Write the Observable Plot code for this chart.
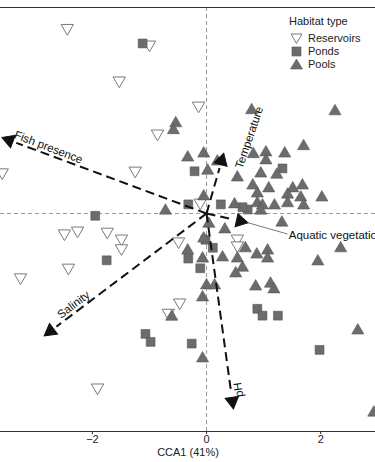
<!DOCTYPE html>
<html><head><meta charset="utf-8">
<script src="https://cdn.jsdelivr.net/npm/d3@7"></script>
<script src="https://cdn.jsdelivr.net/npm/@observablehq/plot@0.6"></script>
<style>
body{margin:0;background:#fff;font-family:"Liberation Sans",Arial,sans-serif;}
#wrap{position:relative;width:375px;height:462px;overflow:hidden;}
#legend{position:absolute;left:0;top:0;font-size:11px;color:#222;}
#legend .t{position:absolute;left:289px;top:15px;white-space:nowrap;}
#legend .r{position:absolute;left:290px;height:14px;display:flex;align-items:center;white-space:nowrap;}
#legend svg{width:13px;height:13px;margin-right:5px;}
</style></head><body>
<div id="wrap"><div id="chart"></div><div id="legend"></div></div>
<script>
// Axis domains and ticks
const xDomain = [-3.61, 2.96];
const yDomain = [-3.82, 3.61];
const xTicks = [-2, 0, 2];
const axisLabel = "CCA1 (41%)";

// Site scores, [CCA1, CCA2]
const reservoirs = [
  [-2.44, 3.25], [-1.00, 2.96], [-1.53, 2.33], [-0.86, 1.40], [-0.14, 1.89],
  [-3.58, 0.72], [-1.25, 0.75], [-2.49, -0.35], [-2.26, -0.30], [-1.74, -0.32],
  [-1.49, -0.44], [-1.49, -0.61], [-2.42, -0.95], [-3.26, -1.12], [-0.49, -0.49],
  [-0.47, -1.56], [-0.67, -1.74], [0.54, -0.44], [0.54, -0.56], [-0.11, 0.19],
  [-1.91, -3.05]
];
const ponds = [
  [-1.12, 2.98], [-1.95, -0.04], [-1.75, -0.82], [-0.21, 0.74], [-0.32, 0.16],
  [0.25, 0.16], [1.33, 0.79], [0.72, 0.07], [0.63, 0.11], [-0.02, -0.46],
  [0.11, -0.60], [-0.32, -0.79], [-0.11, -0.96], [0.89, -1.67], [0.98, -1.79],
  [1.25, -1.79], [-0.26, -2.28], [1.98, -2.39], [-1.07, -2.11], [-0.98, -2.25]
];
const pools = [
  [-0.54, 1.58], [-0.58, 1.46], [-0.33, 0.98], [0.79, 1.81], [2.25, 1.79],
  [1.70, 1.18], [1.37, 1.05], [1.04, 1.07], [1.04, 0.93], [0.82, 1.04],
  [-0.05, 1.05], [0.19, 0.91], [0.02, 0.75], [0.54, 0.63], [0.81, 0.49],
  [0.89, 0.35], [-0.05, 0.30], [0.49, 0.16], [-0.72, 0.05], [0.95, 0.70],
  [1.23, 0.68], [1.68, 0.49], [1.51, 0.44], [1.42, 0.33], [1.65, 0.28],
  [2.02, 0.28], [1.09, 0.44], [0.89, 0.18], [0.98, 0.14], [1.19, 0.14],
  [1.42, 0.18], [1.70, 0.14], [0.95, 0.05], [1.32, -0.16], [0.32, -0.28],
  [0.04, -0.18], [-0.05, -0.44], [0.68, -0.61], [0.88, -0.72], [1.07, -0.65],
  [1.07, -0.79], [0.28, -0.77], [0.54, -0.79], [0.63, -0.95], [0.51, -1.05],
  [-0.07, -0.79], [-0.33, -0.65], [2.35, -0.61], [1.95, -0.84], [0.86, -1.28],
  [1.12, -1.23], [1.18, -1.33], [0.00, -1.26], [0.14, -1.26], [-0.07, -1.47],
  [-0.07, -2.54], [2.65, -2.05], [2.93, -3.49], [-0.61, -1.81]
];

// Environmental vectors
const vecNames = ["Fish presence", "Temperature", "Aquatic vegetation", "Salinity", "pH"];
const vecX = [-3.58, 0.30, 0.72, -2.84, 0.47];
const vecY = [1.33, 1.05, -0.16, -2.14, -3.42];
// label anchor positions and rotation
const labX = [-2.77, 0.75, 1.44, -2.33, 0.56];
const labY = [1.16, 1.33, -0.39, -1.60, -3.09];
const labRot = [21, -71, 0, -37, -98];

const W = 375, H = 462, mT = 7, mB = 31;
const k = W / (xDomain[1] - xDomain[0]); // px per unit (equal aspect)

const vectors = vecNames.map((n, i) => {
  const dx = vecX[i], dy = vecY[i];
  const len = Math.hypot(dx, dy);
  const back = 7.5 / k / len; // centroid of head behind tip
  const ang = Math.atan2(-dy, dx) * 180 / Math.PI;
  return {name: n, x: dx, y: dy, hx: dx * (1 - back), hy: dy * (1 - back),
          lx: dx * (1 - 2 * back), ly: dy * (1 - 2 * back), rot: ang + 90,
          tx: labX[i], ty: labY[i], trot: labRot[i]};
});
const aq = vectors[2];
const rotatedLabels = vectors.filter(v => v !== aq);

const ptFill = "#6c6c6c", ptStroke = "#585858";

const plot = Plot.plot({
  width: W, height: H,
  marginTop: mT, marginBottom: mB, marginLeft: 0, marginRight: 0,
  style: {fontFamily: "'Liberation Sans', Arial, sans-serif", fontSize: "11px", color: "#222", background: "white", overflow: "visible"},
  x: {domain: xDomain, ticks: xTicks, tickSize: 3, tickPadding: 1, tickFormat: d3.format("d"), label: axisLabel, labelArrow: false, labelAnchor: "center", labelOffset: 24},
  y: {domain: yDomain, axis: null},
  marks: [
    Plot.ruleX([0], {stroke: "#9a9a9a", strokeDasharray: "4,3", strokeWidth: 1}),
    Plot.ruleY([0], {stroke: "#9a9a9a", strokeDasharray: "4,3", strokeWidth: 1}),
    Plot.ruleY([yDomain[0], yDomain[1]], {stroke: "#333", strokeWidth: 1}),
    Plot.dot(reservoirs, {x: d => d[0], y: d => d[1], symbol: "triangle", rotate: 180, r: 4.6, fill: "white", stroke: "#7a7a7a", strokeWidth: 1}),
    Plot.dot(ponds, {x: d => d[0], y: d => d[1], symbol: "square", r: 5, fill: ptFill, stroke: ptStroke, strokeWidth: 0.6}),
    Plot.dot(pools, {x: d => d[0], y: d => d[1], symbol: "triangle", r: 4.5, fill: ptFill, stroke: ptStroke, strokeWidth: 0.6}),
    Plot.link(vectors, {x1: 0, y1: 0, x2: "lx", y2: "ly", stroke: "#111", strokeWidth: 2, strokeDasharray: "9,5"}),
    Plot.dot(vectors, {x: "hx", y: "hy", symbol: "triangle", r: 5, rotate: "rot", fill: "#111", stroke: "#111", strokeWidth: 1}),
    Plot.link([aq], {x1: "x", y1: "y", x2: d => d.tx - 0.02, y2: d => d.ty + 0.03, stroke: "#555", strokeWidth: 0.8}),
    Plot.text(rotatedLabels, {x: "tx", y: "ty", text: "name", rotate: "trot", textAnchor: "middle", fontSize: 11.5, fill: "#111"}),
    Plot.text([aq], {x: "tx", y: "ty", text: "name", textAnchor: "start", fontSize: 11.5, fill: "#111"})
  ]
});
document.getElementById("chart").appendChild(plot);

// Legend
const legendTitle = "Habitat type";
const legendItems = ["Reservoirs", "Ponds", "Pools"];
const legendSvgs = [
  '<svg viewBox="0 0 13 13"><polygon points="1,2 12,2 6.5,11.5" fill="white" stroke="#7a7a7a"/></svg>',
  '<svg viewBox="0 0 13 13"><rect x="2" y="2" width="9" height="9" fill="#6c6c6c" stroke="#585858" stroke-width="0.6"/></svg>',
  '<svg viewBox="0 0 13 13"><polygon points="0.5,11 12.5,11 6.5,1" fill="#6c6c6c" stroke="#585858" stroke-width="0.6"/></svg>'
];
const lg = document.getElementById("legend");
lg.innerHTML = '<div class="t">' + legendTitle + '</div>' +
  legendItems.map((s, i) => '<div class="r" style="top:' + (31 + 13 * i) + 'px">' + legendSvgs[i] + '<span>' + s + '</span></div>').join("");
</script>
</body></html>
